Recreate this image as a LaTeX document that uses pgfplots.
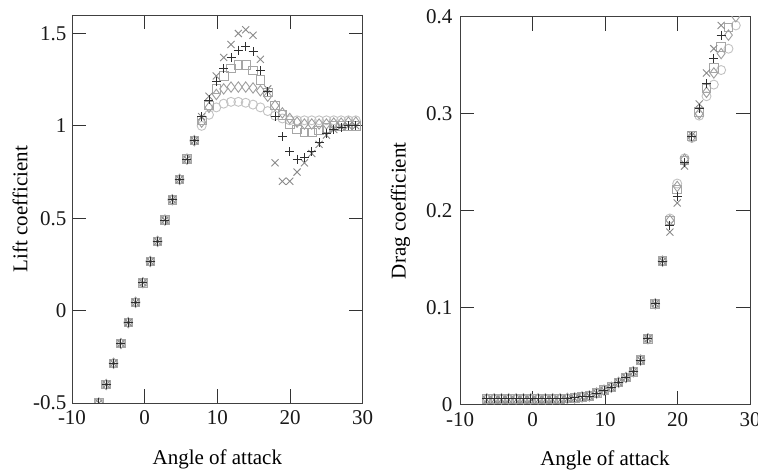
\documentclass[border=0pt]{standalone}
\usepackage{fontspec}
\setmainfont{Liberation Serif}
\usepackage{pgfplots}
\usepackage{pgfplotstable}
\pgfplotsset{compat=1.18}
\definecolor{cplus}{HTML}{2E2E2E}
\definecolor{ccross}{HTML}{8A8A8A}
\definecolor{csq}{HTML}{A6A6A6}
\definecolor{cdia}{HTML}{9E9E9E}
\definecolor{ccirc}{HTML}{C2C2C2}

\pgfplotstableread{
x      plus    cross   sq      dia     circ
-6.30  -0.50   -0.50   -0.50   -0.50   -0.50
-5.29  -0.40   -0.40   -0.40   -0.40   -0.40
-4.28  -0.285  -0.285  -0.285  -0.285  -0.285
-3.27  -0.178  -0.178  -0.178  -0.178  -0.178
-2.26  -0.065  -0.065  -0.065  -0.065  -0.065
-1.25  0.045   0.045   0.045   0.045   0.045
-0.24  0.151   0.151   0.151   0.151   0.151
0.77   0.266   0.266   0.266   0.266   0.266
1.78   0.375   0.375   0.375   0.375   0.375
2.79   0.49    0.49    0.49    0.49    0.49
3.80   0.60    0.60    0.60    0.60    0.60
4.81   0.71    0.71    0.71    0.71    0.71
5.82   0.82    0.82    0.82    0.82    0.82
6.83   0.92    0.92    0.92    0.92    0.92
7.84   1.05    1.05    1.03    1.02    1.00
8.85   1.14    1.16    1.11    1.10    1.06
9.86   1.24    1.27    1.20    1.17    1.10
10.87  1.31    1.37    1.27    1.20    1.12
11.88  1.37    1.44    1.31    1.21    1.13
12.89  1.41    1.50    1.33    1.21    1.13
13.90  1.43    1.52    1.33    1.21    1.125
14.91  1.40    1.49    1.30    1.205   1.115
15.92  1.30    1.36    1.25    1.19    1.10
16.93  1.185   1.20    1.18    1.16    1.08
17.94  1.05    0.80    1.11    1.11    1.055
18.95  0.94    0.70    1.06    1.07    1.04
19.96  0.86    0.70    1.01    1.04    1.03
20.97  0.82    0.75    0.98    1.02    1.03
21.98  0.83    0.80    0.965   1.01    1.03
22.99  0.86    0.85    0.965   1.01    1.03
24.00  0.91    0.90    0.975   1.01    1.03
25.01  0.96    0.95    0.99    1.01    1.03
26.02  0.98    0.98    1.00    1.015   1.03
27.03  0.99    0.995   1.00    1.015   1.03
28.04  1.00    1.00    1.00    1.02    1.03
29.05  1.00    1.00    1.00    1.02    1.03
30.06  1.00    1.00    1.00    1.02    1.03
}\lifttable

\pgfplotstableread{
x      plus    cross   sq      dia     circ
-6.30  0.006   0.005   0.006   0.006   0.006
-5.29  0.006   0.005   0.006   0.006   0.006
-4.28  0.006   0.005   0.006   0.006   0.006
-3.27  0.006   0.005   0.006   0.006   0.006
-2.26  0.006   0.005   0.006   0.006   0.006
-1.25  0.006   0.005   0.006   0.006   0.006
-0.24  0.006   0.005   0.006   0.006   0.006
0.77   0.006   0.005   0.006   0.006   0.006
1.78   0.006   0.005   0.006   0.006   0.006
2.79   0.006   0.005   0.006   0.006   0.006
3.80   0.006   0.005   0.006   0.006   0.006
4.81   0.0065  0.006   0.0065  0.0065  0.0065
5.82   0.007   0.0065  0.007   0.007   0.007
6.83   0.008   0.0075  0.008   0.008   0.008
7.84   0.009   0.009   0.009   0.009   0.009
8.85   0.012   0.012   0.012   0.012   0.012
9.86   0.015   0.015   0.015   0.015   0.015
10.87  0.018   0.018   0.018   0.018   0.018
11.88  0.023   0.023   0.023   0.023   0.023
12.89  0.028   0.028   0.028   0.028   0.028
13.90  0.034   0.034   0.034   0.034   0.034
14.91  0.046   0.046   0.046   0.046   0.046
15.92  0.068   0.068   0.068   0.068   0.068
16.93  0.104   0.104   0.104   0.104   0.104
17.94  0.148   0.148   0.148   0.148   0.148
18.95  0.185   0.178   0.190   0.190   0.192
19.96  0.215   0.208   0.222   0.225   0.228
20.97  0.250   0.246   0.252   0.253   0.254
21.98  0.277   0.278   0.277   0.276   0.275
22.99  0.305   0.310   0.302   0.300   0.298
24.00  0.331   0.342   0.326   0.322   0.318
25.01  0.357   0.367   0.347   0.342   0.330
26.02  0.381   0.391   0.369   0.362   0.345
27.03  0.405   0.415   0.389   0.381   0.367
28.04  0.430   0.440   0.410   0.400   0.391
29.05  0.450   0.460   0.430   0.420   0.410
}\dragtable

\pgfplotsset{
  myax/.style={
    scale only axis,
    axis line style={draw=black!75, line width=0.9bp},
    tick style={draw=black!80, line width=0.9bp},
    major tick length=14bp,
    font=\fontsize{21bp}{25bp}\selectfont,
    ticklabel style={font=\fontsize{21bp}{25bp}\selectfont, text=black!90},
    /pgf/number format/assume math mode=true,
    xmin=-10, xmax=30,
    xtick={-10,0,10,20,30},
    clip marker paths=true,
    xlabel={Angle of attack},
    xlabel style={at={(axis description cs:0.5,-0.1443)}, anchor=center},
    xticklabel style={yshift=-4bp},
  },
  sPlus/.style={only marks, mark=+, mark size=4.5bp, line width=0.9bp, draw=cplus},
  sCross/.style={only marks, mark=x, mark size=5bp, line width=0.9bp, draw=ccross},
  sSq/.style={only marks, mark=square, mark size=4.3bp, line width=0.9bp, draw=csq},
  sDia/.style={only marks, mark=diamond, mark size=5.2bp, line width=0.9bp, draw=cdia},
  sCirc/.style={only marks, mark=o, mark size=4.5bp, line width=0.9bp, draw=ccirc},
}

\begin{document}
\begin{tikzpicture}
\useasboundingbox (0,0) rectangle (758bp,472bp);
\begin{axis}[myax,
  at={(72bp,69bp)}, anchor=south west,
  width=290.7bp, height=388bp,
  ymin=-0.5, ymax=1.6,
  ytick={-0.5,0,0.5,1,1.5},
  yticklabel style={xshift=-2bp},
  ylabel={Lift coefficient},
  ylabel style={at={(axis description cs:-0.179,0.5)}, anchor=center},
]
\addplot[sCirc] table[x=x,y=circ] {\lifttable};
\addplot[sDia] table[x=x,y=dia] {\lifttable};
\addplot[sSq] table[x=x,y=sq] {\lifttable};
\addplot[sCross] table[x=x,y=cross] {\lifttable};
\addplot[sPlus] table[x=x,y=plus] {\lifttable};
\end{axis}
\begin{axis}[myax,
  at={(460bp,67.3bp)}, anchor=south west,
  width=290bp, height=388bp,
  ymin=0, ymax=0.4,
  ytick={0,0.1,0.2,0.3,0.4},
  yticklabel style={xshift=-4bp},
  ylabel={Drag coefficient},
  ylabel style={at={(axis description cs:-0.205,0.5)}, anchor=center},
]
\addplot[sCirc] table[x=x,y=circ] {\dragtable};
\addplot[sDia] table[x=x,y=dia] {\dragtable};
\addplot[sSq] table[x=x,y=sq] {\dragtable};
\addplot[sCross] table[x=x,y=cross] {\dragtable};
\addplot[sPlus] table[x=x,y=plus] {\dragtable};
\end{axis}
\end{tikzpicture}
\end{document}
